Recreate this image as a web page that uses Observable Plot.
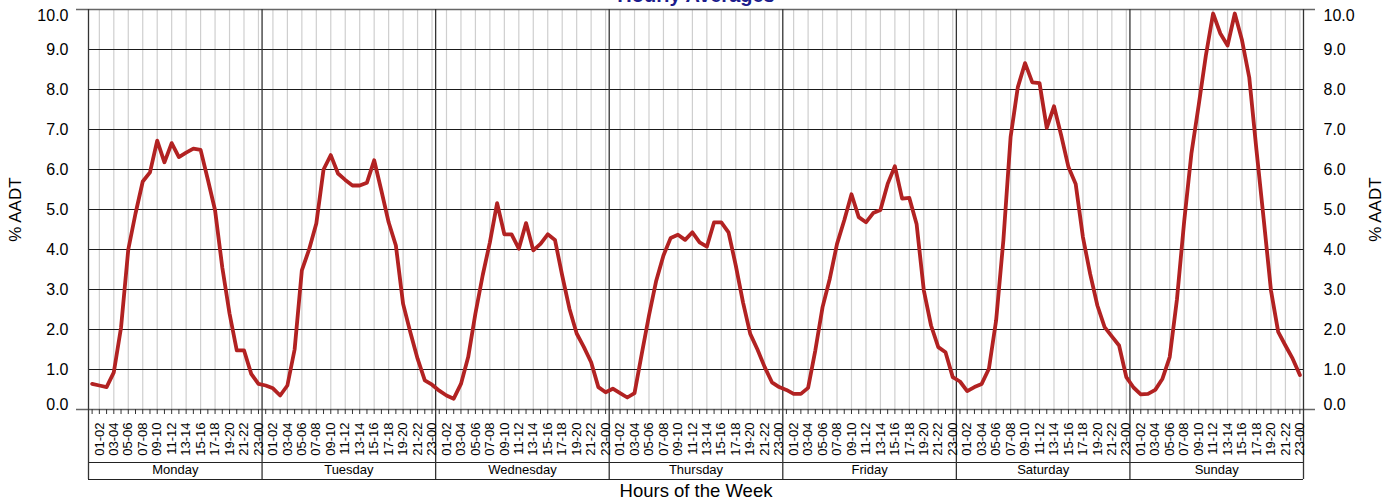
<!DOCTYPE html>
<html>
<head>
<meta charset="utf-8">
<script src="https://cdn.jsdelivr.net/npm/d3@7"></script>
<script src="https://cdn.jsdelivr.net/npm/@observablehq/plot@0.6"></script>
<style>
  html, body { margin: 0; padding: 0; background: #fff; overflow: hidden; }
</style>
</head>
<body>
<div id="chart"></div>
<script>
const days = ["Monday", "Tuesday", "Wednesday", "Thursday", "Friday", "Saturday", "Sunday"];
const hourLabels = ["00-01","01-02","02-03","03-04","04-05","05-06","06-07","07-08","08-09","09-10","10-11","11-12",
                    "12-13","13-14","14-15","15-16","16-17","17-18","18-19","19-20","20-21","21-22","22-23","23-00"];
const monday    = [0.64, 0.60, 0.56, 0.93, 2.05, 4.00, 4.90, 5.70, 5.93, 6.72, 6.18, 6.66, 6.31, 6.42, 6.52, 6.49, 5.75, 4.98, 3.55, 2.40, 1.48, 1.48, 0.89, 0.64];
const tuesday   = [0.60, 0.53, 0.35, 0.60, 1.50, 3.48, 4.00, 4.65, 6.00, 6.36, 5.90, 5.74, 5.60, 5.60, 5.67, 6.23, 5.47, 4.68, 4.10, 2.64, 1.93, 1.27, 0.73, 0.62];
const wednesday = [0.47, 0.35, 0.27, 0.64, 1.31, 2.40, 3.35, 4.18, 5.16, 4.38, 4.38, 4.02, 4.66, 3.98, 4.14, 4.38, 4.24, 3.35, 2.52, 1.90, 1.56, 1.18, 0.56, 0.43];
const thursday  = [0.52, 0.41, 0.30, 0.41, 1.39, 2.35, 3.22, 3.85, 4.29, 4.37, 4.24, 4.43, 4.18, 4.07, 4.68, 4.68, 4.43, 3.60, 2.68, 1.89, 1.50, 1.06, 0.68, 0.56];
const friday    = [0.49, 0.39, 0.39, 0.54, 1.48, 2.56, 3.27, 4.14, 4.73, 5.38, 4.81, 4.68, 4.91, 4.99, 5.64, 6.08, 5.27, 5.29, 4.64, 2.98, 2.10, 1.56, 1.43, 0.81];
const saturday  = [0.70, 0.46, 0.56, 0.64, 1.02, 2.23, 4.23, 6.81, 8.06, 8.66, 8.18, 8.16, 7.04, 7.58, 6.85, 6.06, 5.64, 4.31, 3.39, 2.60, 2.06, 1.83, 1.60, 0.81];
const sunday    = [0.55, 0.38, 0.39, 0.49, 0.77, 1.31, 2.75, 4.70, 6.40, 7.60, 8.85, 9.90, 9.40, 9.10, 9.90, 9.23, 8.30, 6.48, 4.75, 2.98, 1.94, 1.60, 1.27, 0.86];
const yTicks = [0, 1, 2, 3, 4, 5, 6, 7, 8, 9, 10];
const titleText = "Hourly Averages";
const xTitle = "Hours of the Week";
const yTitle = "% AADT";

const week = [monday, tuesday, wednesday, thursday, friday, saturday, sunday];
const series = week.flatMap((vals, d) => vals.map((v, h) => ({i: d * 24 + h, v})));
const allIdx = d3.range(168);
const oddIdx = allIdx.filter(i => i % 2 === 1);
const bounds = d3.range(8).map(d => d * 24 - 0.5);
const midTicks = yTicks.filter(t => t > 0 && t < 10);
const font = "Liberation Sans, Arial, Helvetica, sans-serif";

const chart = Plot.plot({
  width: 1398,
  height: 502,
  marginLeft: 88,
  marginRight: 95,
  marginTop: 9,
  marginBottom: 93,
  style: {fontFamily: font, fontSize: "13px", background: "white", color: "#000", overflow: "visible"},
  x: {domain: [-0.5, 167.5], axis: null},
  y: {domain: [0, 10], axis: null},
  marks: [
    // minor vertical gridlines
    Plot.ruleX(oddIdx, {x: d => d, stroke: "#cfcfcf", strokeWidth: 1.2}),
    // horizontal gridlines
    Plot.ruleY(midTicks, {y: d => d, stroke: "#1a1a1a", strokeWidth: 1}),
    Plot.ruleY([0, 10], {y: d => d, stroke: "#666", strokeWidth: 1.5, insetLeft: -12, insetRight: -12}),
    // hour ticks
    Plot.ruleX(allIdx, {x: d => d, stroke: "#333", strokeWidth: 1, insetTop: 400, insetBottom: -5}),
    // day label box
    Plot.ruleY([0], {y: d => d, dy: 53, stroke: "#222", strokeWidth: 1.2}),
    Plot.ruleY([0], {y: d => d, dy: 70, stroke: "#222", strokeWidth: 1.2}),
    // day separators and frame sides
    Plot.ruleX(bounds, {x: d => d, stroke: "#333", strokeWidth: 1.3, insetBottom: -70}),
    // data line
    Plot.line(series, {x: "i", y: "v", stroke: "#b22222", strokeWidth: 3.8}),
    // x tick labels
    Plot.text(oddIdx, {x: d => d, text: d => hourLabels[d % 24], frameAnchor: "bottom", rotate: -90,
      textAnchor: "end", lineAnchor: "middle", dy: 13, fontSize: 13, fill: "#000"}),
    // day labels
    Plot.text(days, {x: (d, i) => i * 24 + 11.5, text: d => d, frameAnchor: "bottom", dy: 64, fontSize: 13, fill: "#000"}),
    // y tick labels left
    Plot.text(midTicks, {y: d => d, text: d => d.toFixed(1), frameAnchor: "left", textAnchor: "end", dx: -20, fontSize: 16, fill: "#000"}),
    Plot.text([10], {y: d => d, text: d => d.toFixed(1), frameAnchor: "left", textAnchor: "end", dx: -20, dy: 6.5, fontSize: 16, fill: "#000"}),
    Plot.text([0], {y: d => d, text: d => d.toFixed(1), frameAnchor: "left", textAnchor: "end", dx: -20, dy: -4.5, fontSize: 16, fill: "#000"}),
    // y tick labels right
    Plot.text(midTicks, {y: d => d, text: d => d.toFixed(1), frameAnchor: "right", textAnchor: "start", dx: 20, fontSize: 16, fill: "#000"}),
    Plot.text([10], {y: d => d, text: d => d.toFixed(1), frameAnchor: "right", textAnchor: "start", dx: 20, dy: 6.5, fontSize: 16, fill: "#000"}),
    Plot.text([0], {y: d => d, text: d => d.toFixed(1), frameAnchor: "right", textAnchor: "start", dx: 20, dy: -5, fontSize: 16, fill: "#000"}),
    // axis titles
    Plot.text([yTitle], {text: d => d, frameAnchor: "left", textAnchor: "middle", dx: -73, rotate: -90, fontSize: 17, fill: "#000"}),
    Plot.text([yTitle], {text: d => d, frameAnchor: "right", textAnchor: "middle", dx: 72, rotate: -90, fontSize: 17, fill: "#000"}),
    Plot.text([xTitle], {text: d => d, frameAnchor: "bottom", dy: 87, fontSize: 18.5, fill: "#000"}),
    // title (mostly cut off at the top, as in the reference)
    Plot.text([titleText], {text: d => d, frameAnchor: "top", lineAnchor: "bottom", dy: -8, fontSize: 20,
      fontWeight: "bold", fill: "#1c1c8c"})
  ]
});
document.getElementById("chart").appendChild(chart);
</script>
</body>
</html>
